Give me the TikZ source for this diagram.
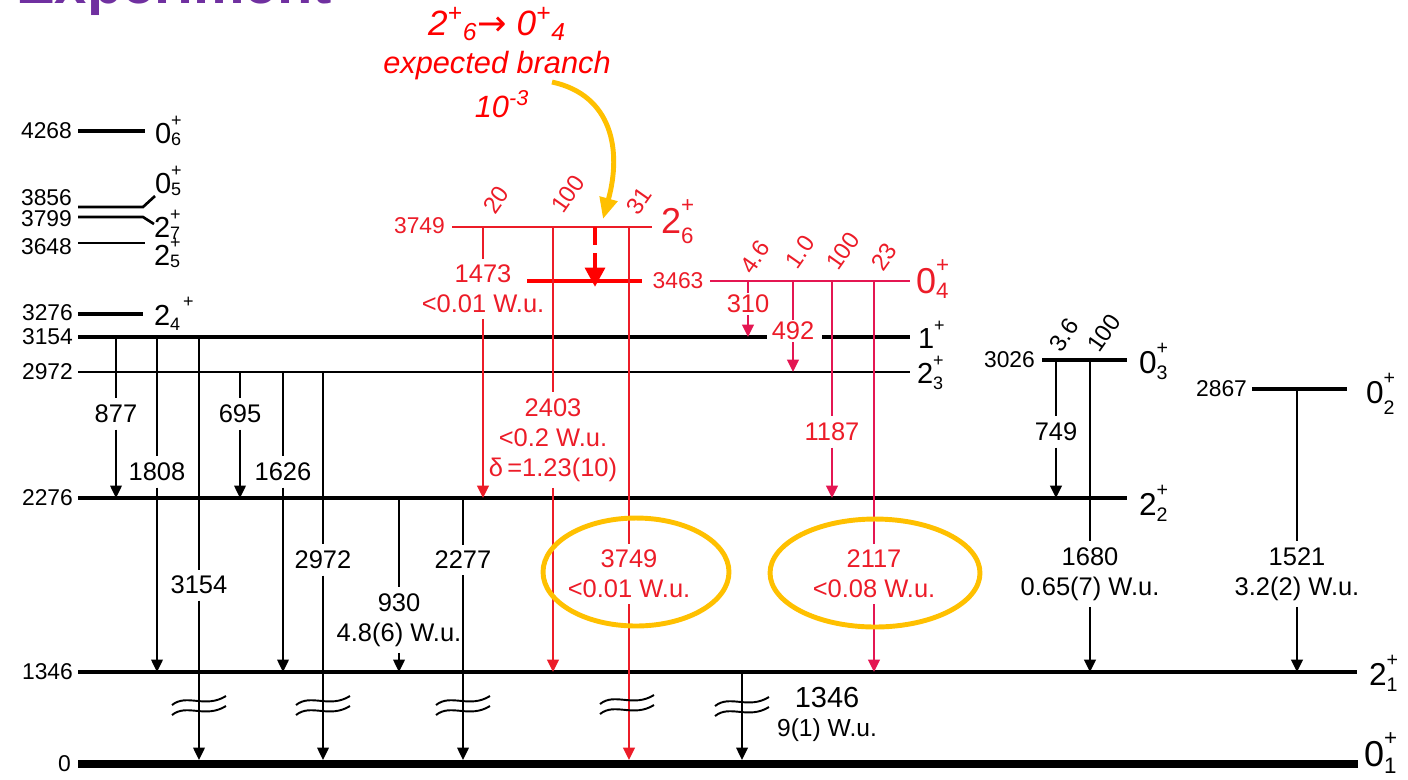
\documentclass[tikz,border=0pt]{standalone}
\usepackage{fontspec}
\setmainfont{Liberation Sans}
\newfontfamily\arrowfont{DejaVu Sans}
\usetikzlibrary{arrows.meta}
\definecolor{expred}{RGB}{236,28,40}
\definecolor{zeropink}{RGB}{228,22,82}
\definecolor{notered}{RGB}{255,0,0}
\definecolor{hilite}{RGB}{255,192,0}
\definecolor{titlepurple}{RGB}{112,48,160}
\makeatletter
\newcommand{\rel}{\fontsize{\strip@pt\dimexpr0.62\dimexpr\f@size pt\relax\relax}{1}\selectfont}
\makeatother
% spin label, + above and index below
\newcommand{\jp}[3][0.22em]{#2\rlap{\raisebox{0.58em}{\rel+}}\raisebox{-#1}{\rel #3}}
% break mark on a long transition
\newcommand{\brk}[2]{%
  \draw[wave] (#1-27,#2+4) .. controls (#1-12,#2-8) and (#1+6,#2+8) .. (#1+27,#2-5);
  \draw[wave] (#1-27,#2+14) .. controls (#1-12,#2+2) and (#1+6,#2+18) .. (#1+27,#2+5);}
\begin{document}
\begin{tikzpicture}[x=0.02cm, y=-0.02cm,
  every node/.style={inner sep=1pt},
  lev/.style={line width=2.2pt},
  levthin/.style={line width=1.5pt},
  gam/.style={line width=1.15pt},
  gamb/.style={line width=1.4pt},
  gamr/.style={line width=1.5pt, expred},
  gamp/.style={line width=1.5pt, zeropink},
  arr/.style={-{Triangle[length=7pt,width=6.5pt]}},
  levnum/.style={font=\fontsize{13}{15}\selectfont, anchor=east},
  spin/.style={font=\fontsize{16.5}{18}\selectfont, anchor=base west},
  spinl/.style={font=\fontsize{18}{20}\selectfont, anchor=base west},
  spinxl/.style={font=\fontsize{20.5}{22}\selectfont, anchor=base west},
  glab/.style={font=\fontsize{14.5}{17}\selectfont, align=center, inner ysep=3.5pt},
  inten/.style={font=\fontsize{13.5}{16}\selectfont, rotate=55},
  note/.style={text=notered, anchor=base, font=\fontsize{17.5}{20}\selectfont\itshape},
  ring/.style={hilite, line width=2.8pt},
  wave/.style={line width=1.1pt}]
  \useasboundingbox (0,0) rectangle (1408,779);

  % title, cut at the top
  \node[font=\fontsize{33}{36}\selectfont\bfseries, text=titlepurple, anchor=base west] (title) at (14,3) {Experiment};

  % level heights
  \coordinate (L3749) at (0,227);
  \coordinate (L3463) at (0,281);
  \coordinate (L3154) at (0,337);
  \coordinate (L3026) at (0,360);
  \coordinate (L2972) at (0,372);
  \coordinate (L2867) at (0,389);
  \coordinate (L2276) at (0,498);
  \coordinate (L1346) at (0,672);
  \coordinate (L0top) at (0,760);

  % upper levels, left
  \draw[lev] (78,131) -- (145,131);
  \node[levnum] (e4268) at (74,131) {4268};
  \node[spin] (s4268) at (153,143) {\jp[0.08em]{0}{6}};
  \draw[levthin] (78,207) -- (143,207) -- (155,196);
  \node[levnum] (e3856) at (74,198) {3856};
  \node[spin] (s3856) at (153,193) {\jp[0.08em]{0}{5}};
  \draw[levthin] (78,217) -- (143,217) -- (154,224);
  \node[levnum] (e3799) at (74,219) {3799};
  \node[spin] (s3799) at (152,237) {\jp[0.08em]{2}{7}};
  \draw[levthin] (78,243) -- (145,243);
  \node[levnum] (e3648) at (74,247) {3648};
  \node[spin] (s3648) at (152,265) {\jp[0.08em]{2}{5}};
  \draw[lev] (78,314) -- (143,314);
  \node[levnum] (e3276) at (75,313) {3276};
  \node[spin] (s3276) at (152,325) {2\raisebox{-0.2em}{\rel 4}\raisebox{0.6em}{\rel\,+}};

  % main levels
  \draw[lev] (78,337) -- (767,337);
  \draw[lev] (822,337) -- (910,337);
  \node[levnum] (e3154) at (75,337) {3154};
  \node[spin] (s3154) at (916,348) {\jp{1}{}};
  \draw[levthin] (78,372) -- (910,372);
  \node[levnum] (e2972) at (75,372) {2972};
  \node[spin] (s2972) at (915,383) {\jp{2}{3}};
  \draw[lev] (78,498) -- (1127,498);
  \node[levnum] (e2276) at (75,498) {2276};
  \node[spinl] (s2276) at (1137,515) {\jp{2}{2}};
  \draw[lev] (78,672) -- (1357,672);
  \node[levnum] (e1346) at (75,672) {1346};
  \node[spinl] (s1346) at (1367,685) {\jp{2}{1}};
  \draw[line width=4.5pt] (78,764) -- (1358,764);
  \node[levnum] (e0) at (73,764) {0};
  \node[spinxl] (s0) at (1362,766) {\jp{0}{1}};

  % 0+ levels, right
  \draw[line width=1.8pt] (1042,360) -- (1127,360);
  \node[levnum] (e3026) at (1037,360) {3026};
  \node[spinl] (s3026) at (1137,373) {\jp{0}{3}};
  \draw[line width=1.8pt] (1252,389) -- (1347,389);
  \node[levnum] (e2867) at (1249,389) {2867};
  \node[spinl] (s2867) at (1364,403) {\jp[0.35em]{0}{2}};

  % red levels
  \draw[expred, line width=1.4pt] (452,227) -- (652,227);
  \node[levnum, text=expred] (e3749) at (447,226) {3749};
  \node[spinxl, text=expred] (s3749) at (659,233) {\jp[0.28em]{2}{6}};
  \draw[notered, line width=2.6pt] (527,281) -- (642,281);
  \node[levnum, text=expred, anchor=center] (e3463) at (678,281) {3463};
  \draw[zeropink, line width=1.3pt] (710,281) -- (910,281);
  \node[spinxl, text=expred] (s3463) at (914,293) {\jp[0.15em]{0}{4}};

  % decays of 3154
  \node[glab] (t877) at (116,414) {877};
  \draw[gam] (t877 |- L3154) -- (t877);
  \draw[gam,arr] (t877) -- (t877 |- L2276);
  \node[glab] (t1808) at (157,472) {1808};
  \draw[gam] (t1808 |- L3154) -- (t1808);
  \draw[gam,arr] (t1808) -- (t1808 |- L1346);
  \node[glab] (t3154) at (199,585) {3154};
  \draw[gam] (t3154 |- L3154) -- (t3154);
  \draw[gam,arr] (t3154) -- (t3154 |- L0top);

  % decays of 2972
  \node[glab] (t695) at (240,414) {695};
  \draw[gam] (t695 |- L2972) -- (t695);
  \draw[gam,arr] (t695) -- (t695 |- L2276);
  \node[glab] (t1626) at (283,472) {1626};
  \draw[gam] (t1626 |- L2972) -- (t1626);
  \draw[gam,arr] (t1626) -- (t1626 |- L1346);
  \node[glab] (t2972) at (323,560) {2972};
  \draw[gam] (t2972 |- L2972) -- (t2972);
  \draw[gam,arr] (t2972) -- (t2972 |- L0top);

  % decays of 2276
  \node[glab] (t930) at (399,620) {930\\4.8(6) W.u.};
  \draw[gam] (t930 |- L2276) -- (t930);
  \draw[gam,arr] (t930) -- (t930 |- L1346);
  \node[glab] (t2277) at (463,560) {2277};
  \draw[gam] (t2277 |- L2276) -- (t2277);
  \draw[gam,arr] (t2277) -- (t2277 |- L0top);

  % decay of 1346
  \coordinate (g1346) at (742,672);
  \draw[gam,arr] (g1346) -- (g1346 |- L0top);
  \node[glab, font=\fontsize{16.5}{16.5}\selectfont] (t1346) at (827,714) {1346\\{\fontsize{14}{16}\selectfont 9(1) W.u.}};

  % decays of 3026 and 2867
  \node[glab] (t749) at (1056,432) {749};
  \draw[gamb] (t749 |- L3026) -- (t749);
  \draw[gamb,arr] (t749) -- (t749 |- L2276);
  \node[glab] (t1680) at (1090,574) {1680\\0.65(7) W.u.};
  \draw[gamb] (t1680 |- L3026) -- (t1680);
  \draw[gamb,arr] (t1680) -- (t1680 |- L1346);
  \node[glab] (t1521) at (1297,574) {1521\\3.2(2) W.u.};
  \draw[gamb] (t1521 |- L2867) -- (t1521);
  \draw[gamb,arr] (t1521) -- (t1521 |- L1346);
  \node[inten] (i749) at (1064,335) {3.6};
  \node[inten] (i1680) at (1104,333) {100};

  % decays of 3749
  \node[glab, text=expred] (t1473) at (483,289) {1473\\<0.01 W.u.};
  \draw[gamr] (t1473 |- L3749) -- (t1473);
  \draw[gamr,arr] (t1473) -- (t1473 |- L2276);
  \node[glab, text=expred] (t2403) at (553,440) {2403\\<0.2 W.u.\\δ\,=1.23(10)};
  \draw[gamr] (t2403 |- L3749) -- (t2403);
  \draw[gamr,arr] (t2403) -- (t2403 |- L1346);
  \node[glab, text=expred] (t3749) at (629,574) {3749\\<0.01 W.u.};
  \draw[gamr] (t3749 |- L3749) -- (t3749);
  \draw[gamr,arr] (t3749) -- (t3749 |- L0top);
  \node[inten, text=expred] (i1473) at (496,200) {20};
  \node[inten, text=expred] (i2403) at (568,194) {100};
  \node[inten, text=expred] (i3749) at (639,201) {31};

  % expected 2+6 -> 0+4 branch
  \coordinate (d26) at (595,227);
  \coordinate (d26e) at (595,287);
  \draw[notered, line width=2.8pt, dash pattern=on 10pt off 5pt, -{Triangle[length=11pt,width=11pt]}] (d26) -- (d26e);

  % decays of 3463
  \node[glab, text=expred, inner ysep=1pt] (t310) at (748,304) {310};
  \draw[gamp] (t310 |- L3463) -- (t310);
  \draw[gamp,arr] (t310) -- (t310 |- L3154);
  \node[glab, text=expred, inner ysep=1pt] (t492) at (793,331) {492};
  \draw[gamp] (t492 |- L3463) -- (t492);
  \draw[gamp,arr] (t492) -- (t492 |- L2972);
  \node[glab, text=expred] (t1187) at (832,432) {1187};
  \draw[gamp] (t1187 |- L3463) -- (t1187);
  \draw[gamp,arr] (t1187) -- (t1187 |- L2276);
  \node[glab, text=expred] (t2117) at (874,574) {2117\\<0.08 W.u.};
  \draw[gamp] (t2117 |- L3463) -- (t2117);
  \draw[gamp,arr] (t2117) -- (t2117 |- L1346);
  \node[inten, text=expred] (i310) at (755,257) {4.6};
  \node[inten, text=expred] (i492) at (800,252) {1.0};
  \node[inten, text=expred] (i1187) at (843,251) {100};
  \node[inten, text=expred] (i2117) at (884,257) {23};

  % breaks
  \brk{199}{701}
  \brk{323}{701}
  \brk{463}{701}
  \brk{627}{700}
  \brk{742}{702}

  % note
  \node[note, font=\fontsize{20}{22}\selectfont\itshape] (n1) at (497,35) {2\textsuperscript{+}\textsubscript{6}{\upshape\arrowfont →} 0\textsuperscript{+}\textsubscript{4}};
  \node[note] (n2) at (497,73) {expected branch};
  \node[note] (n3) at (502,117) {10\textsuperscript{-3}};
  \coordinate (ystart) at (552,82);
  \coordinate (yend) at (603,219);
  \draw[hilite, line width=2.8pt, -{Triangle[length=12pt,width=10pt]}] (ystart) .. controls (612,95) and (622,150) .. (yend);

  % highlights
  \draw[ring] (636,572) ellipse [x radius=1.86cm, y radius=1.08cm];
  \draw[ring] (875,573) ellipse [x radius=2.1cm, y radius=1.08cm];
\end{tikzpicture}
\end{document}
